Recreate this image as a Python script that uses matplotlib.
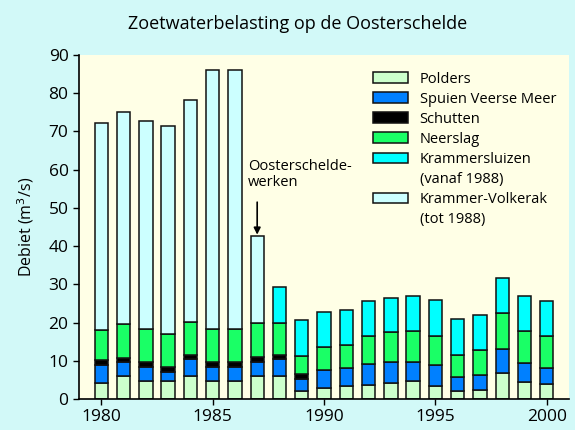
import numpy as np
import matplotlib
matplotlib.use("Agg")
from matplotlib import pyplot as plt
from matplotlib.patches import Patch

years = np.arange(1980, 2001)

# segment heights per year, bottom to top (m3/s)
polders = [4.3, 6.0, 4.7, 4.7, 6.0, 4.7, 4.7, 6.0, 6.0, 2.2, 2.8,
           3.3, 3.7, 4.2, 4.6, 3.5, 2.2, 2.3, 6.7, 4.4, 4.0]
spuien = [4.5, 3.7, 3.7, 2.4, 4.4, 3.7, 3.7, 3.7, 4.4, 3.1, 4.9,
          4.8, 5.5, 5.6, 5.2, 5.5, 3.6, 3.9, 6.5, 5.1, 4.2]
schutten = [1.3, 1.1, 1.2, 1.4, 1.0, 1.2, 1.2, 1.2, 1.0, 1.3, 0,
            0, 0, 0, 0, 0, 0, 0, 0, 0, 0]
neerslag = [7.9, 8.8, 8.7, 8.5, 8.7, 8.7, 8.7, 9.1, 8.6, 4.7, 5.8,
            5.9, 7.2, 7.6, 8.1, 7.6, 5.8, 6.5, 9.2, 8.2, 8.2]
krammersluizen = [0, 0, 0, 0, 0, 0, 0, 0, 9.4, 9.3, 9.2,
                  9.2, 9.2, 9.1, 9.1, 9.3, 9.3, 9.2, 9.2, 9.3, 9.2]
krammer_volkerak = [54.2, 55.6, 54.4, 54.4, 58.1, 67.8, 67.8, 22.7, 0, 0, 0,
                    0, 0, 0, 0, 0, 0, 0, 0, 0, 0]

series = [polders, spuien, schutten, neerslag, krammersluizen, krammer_volkerak]
labels = ['Polders', 'Spuien Veerse Meer', 'Schutten', 'Neerslag',
          'Krammersluizen', 'Krammer-Volkerak']
sublabels = ['', '', '', '', '(vanaf 1988)', '(tot 1988)']
colors = ['#ccffcc', '#0080ff', '#000000', '#1aff66', '#00ffff', '#ccffff']

plt.rcParams['font.family'] = ['Open Sans', 'DejaVu Sans']

fig = plt.figure(figsize=(5.75, 4.3), dpi=100, facecolor='#d2f9f8')
ax = fig.add_axes([79/575, 31/430, 490/575, 344/430], facecolor='#ffffe6')

handles, names = [], []
bottom = np.zeros(len(years))
for vals, lab, sub, col in zip(series, labels, sublabels, colors):
    vals = np.array(vals, dtype=float)
    m = vals > 0
    bars = ax.bar(years[m], vals[m], width=0.6, bottom=bottom[m], color=col,
                  edgecolor='#111111', linewidth=1.1)
    bottom += vals
    handles.append(bars)
    names.append(lab)
    if sub:
        # second legend line without a swatch
        handles.append(Patch(facecolor='none', edgecolor='none'))
        names.append(sub)

ax.set_xlim(1979, 2001)
ax.set_ylim(0, 90)
ax.set_xticks([1980, 1985, 1990, 1995, 2000])
ax.set_yticks(np.arange(0, 91, 10))
ax.tick_params(axis='both', labelsize=12.5, direction='out', length=4, width=1)
ax.spines['top'].set_visible(False)
ax.spines['right'].set_visible(False)
ax.spines['left'].set_linewidth(1.2)
ax.spines['bottom'].set_linewidth(1.2)
ax.set_ylabel('Debiet (m$^3$/s)', fontsize=11.5, labelpad=9)

fig.suptitle('Zoetwaterbelasting op de Oosterschelde', x=0.517, y=0.965, fontsize=13)

# Oosterschelde works: label and arrow pointing at the 1987 bar
ax.text(1986.6, 54.8, 'Oosterschelde-\nwerken', fontsize=10.5, ha='left',
        va='bottom', linespacing=1.05)
ax.annotate('', xy=(1987, 43.0), xytext=(1987, 51.5),
            arrowprops=dict(arrowstyle='-|>', color='black', lw=1.2,
                            shrinkA=0, shrinkB=0))

ax.legend(handles, names, loc='upper left', bbox_to_anchor=(0.573, 0.99),
          frameon=False, fontsize=10.5, handlelength=2.4, handleheight=0.75,
          labelspacing=0.35, handletextpad=0.8)

fig.savefig('out.png', dpi=100, facecolor=fig.get_facecolor())
